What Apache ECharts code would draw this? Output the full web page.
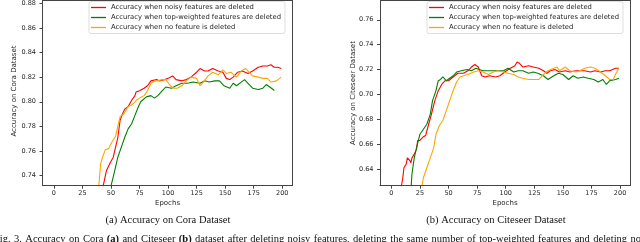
<!DOCTYPE html>
<html><head><meta charset="utf-8">
<script src="https://cdn.jsdelivr.net/npm/echarts@6/dist/echarts.min.js"></script>
<style>html,body{margin:0;padding:0;background:#fff}#c{position:relative;width:640px;height:242px}.spine{position:absolute;box-sizing:border-box;border:1px solid #444;pointer-events:none;z-index:5}#err{position:absolute;left:296px;top:40px;width:80px;font:5px sans-serif;color:#900;z-index:6;word-break:break-all}</style>
</head><body><div id="c"></div>
<script>
const seriesNames = ['Accuracy when noisy features are deleted', 'Accuracy when top-weighted features are deleted', 'Accuracy when no feature is deleted'];
const seriesColors = ['#ff0000', '#008000', '#ffa500'];
const xTicks = [0, 25, 50, 75, 100, 125, 150, 175, 200];
const coraTicks = [0.74, 0.76, 0.78, 0.80, 0.82, 0.84, 0.86, 0.88];
const citeTicks = [0.64, 0.66, 0.68, 0.70, 0.72, 0.74, 0.76];
const captionWords = ['Fig.', '3.', 'Accuracy', 'on', 'Cora', '(a)', 'and', 'Citeseer', '(b)', 'dataset', 'after', 'deleting', 'noisy', 'features,', 'deleting', 'the', 'same', 'number', 'of', 'top-weighted', 'features', 'and', 'deleting', 'no'];
const captionBold = ['(a)', '(b)'];

// Cora
const coraNoisyEpochs = [43, 46, 49, 52, 54, 56, 58, 60, 62, 65, 68, 71, 72, 75, 79, 82, 85, 90, 92, 97, 100, 104, 107, 112, 116, 120, 125, 128, 132, 135, 139, 144, 148, 151, 154, 157, 161, 165, 170, 174, 179, 183, 187, 190, 193, 196, 199];
const coraNoisyAcc = [0.731, 0.744, 0.750, 0.755, 0.763, 0.771, 0.785, 0.790, 0.794, 0.796, 0.801, 0.805, 0.808, 0.809, 0.811, 0.813, 0.817, 0.818, 0.817, 0.818, 0.819, 0.821, 0.818, 0.817, 0.818, 0.820, 0.824, 0.827, 0.825, 0.825, 0.827, 0.825, 0.824, 0.819, 0.818, 0.820, 0.824, 0.825, 0.823, 0.825, 0.828, 0.829, 0.829, 0.830, 0.828, 0.828, 0.827];
const coraTopEpochs = [49, 52, 54, 56, 59, 62, 65, 68, 71, 74, 76, 81, 85, 88, 91, 95, 98, 103, 107, 112, 117, 122, 128, 132, 136, 141, 145, 149, 154, 157, 160, 164, 167, 170, 174, 179, 183, 186, 189, 192, 193];
const coraTopAcc = [0.728, 0.739, 0.747, 0.755, 0.763, 0.771, 0.778, 0.782, 0.789, 0.796, 0.800, 0.804, 0.805, 0.803, 0.805, 0.809, 0.812, 0.811, 0.813, 0.815, 0.815, 0.816, 0.815, 0.817, 0.816, 0.817, 0.817, 0.813, 0.811, 0.815, 0.813, 0.816, 0.818, 0.815, 0.811, 0.810, 0.811, 0.814, 0.812, 0.810, 0.809];
const coraNoneEpochs = [39, 41, 43, 45, 48, 50, 52, 54, 56, 58, 61, 65, 69, 72, 75, 79, 82, 85, 88, 91, 95, 98, 102, 105, 108, 112, 116, 120, 125, 128, 130, 135, 139, 144, 148, 151, 155, 160, 164, 168, 174, 179, 183, 187, 190, 195, 199];
const coraNoneAcc = [0.728, 0.750, 0.756, 0.761, 0.762, 0.766, 0.769, 0.772, 0.780, 0.788, 0.790, 0.796, 0.798, 0.801, 0.803, 0.805, 0.809, 0.815, 0.817, 0.817, 0.818, 0.818, 0.813, 0.811, 0.811, 0.813, 0.817, 0.820, 0.819, 0.813, 0.815, 0.821, 0.824, 0.822, 0.826, 0.823, 0.824, 0.820, 0.825, 0.827, 0.821, 0.820, 0.819, 0.819, 0.816, 0.817, 0.820];

// Citeseer
const citeNoisyEpochs = [8, 10, 11, 13, 14, 16, 17, 18, 20, 22, 23, 25, 28, 30, 32, 35, 38, 41, 44, 47, 50, 54, 58, 63, 67, 70, 73, 76, 79, 82, 86, 91, 95, 99, 104, 108, 110, 112, 115, 120, 124, 129, 133, 136, 139, 143, 147, 152, 156, 161, 165, 169, 174, 178, 183, 187, 191, 196, 199];
const citeNoisyAcc = [0.622, 0.633, 0.641, 0.644, 0.649, 0.647, 0.645, 0.649, 0.652, 0.656, 0.663, 0.663, 0.666, 0.667, 0.674, 0.684, 0.695, 0.703, 0.708, 0.711, 0.711, 0.714, 0.717, 0.717, 0.719, 0.722, 0.724, 0.722, 0.715, 0.714, 0.715, 0.714, 0.715, 0.718, 0.721, 0.723, 0.726, 0.725, 0.722, 0.723, 0.722, 0.721, 0.719, 0.717, 0.719, 0.720, 0.718, 0.719, 0.718, 0.719, 0.719, 0.719, 0.718, 0.719, 0.718, 0.719, 0.719, 0.721, 0.721];
const citeTopEpochs = [17, 18, 20, 22, 25, 28, 31, 34, 36, 39, 41, 43, 45, 48, 51, 54, 57, 61, 66, 70, 74, 80, 85, 89, 93, 98, 102, 107, 111, 115, 120, 124, 128, 133, 137, 142, 146, 150, 155, 159, 163, 168, 172, 177, 181, 185, 188, 191, 196, 199];
const citeTopAcc = [0.622, 0.636, 0.649, 0.657, 0.668, 0.672, 0.676, 0.684, 0.695, 0.703, 0.711, 0.712, 0.714, 0.711, 0.713, 0.715, 0.718, 0.719, 0.720, 0.719, 0.721, 0.719, 0.719, 0.719, 0.719, 0.719, 0.721, 0.718, 0.719, 0.719, 0.717, 0.718, 0.717, 0.715, 0.712, 0.715, 0.717, 0.716, 0.712, 0.715, 0.713, 0.714, 0.713, 0.712, 0.710, 0.712, 0.708, 0.711, 0.712, 0.713];
const citeNoneEpochs = [26, 28, 31, 34, 37, 39, 42, 45, 48, 51, 54, 57, 60, 63, 67, 72, 76, 80, 85, 89, 93, 98, 102, 107, 111, 115, 120, 124, 129, 133, 137, 142, 145, 147, 152, 156, 161, 165, 169, 174, 178, 183, 187, 191, 194, 197, 199];
const citeNoneAcc = [0.622, 0.633, 0.641, 0.649, 0.657, 0.668, 0.675, 0.679, 0.687, 0.695, 0.703, 0.710, 0.714, 0.715, 0.716, 0.718, 0.719, 0.718, 0.716, 0.718, 0.719, 0.718, 0.717, 0.716, 0.714, 0.713, 0.712, 0.712, 0.712, 0.716, 0.719, 0.721, 0.722, 0.719, 0.722, 0.719, 0.718, 0.719, 0.721, 0.722, 0.721, 0.718, 0.715, 0.712, 0.712, 0.718, 0.721];

const errors = [];
window.addEventListener('error', e => errors.push('win:' + e.message));
const step = (name, fn) => { try { fn(); } catch (e) { errors.push(name + ':' + (e && e.message)); } };

const pairs = (xs, ys) => xs.map((x, i) => [x, ys[i]]);
const container = document.getElementById('c');
const chart = echarts.init(container);
const FONT = 'DejaVu Sans';
const SERIF = 'Liberation Serif';
const TXT = '#262626';
const AX = '#444';
const XMIN = -9.95, XMAX = 208.95;
const coraRange = [0.7319, 0.8822], citeRange = [0.6266, 0.7755];
const gridRects = [{left: 42.5, top: 0.5, width: 250, height: 185.2}, {left: 380, top: 0.5, width: 250.3, height: 185.2}];

function makeXAxis(gi) {
  return {
    type: 'value', gridIndex: gi, min: XMIN, max: XMAX,
    axisLine: {show: true, onZero: false, lineStyle: {color: AX, width: 1}},
    axisTick: {show: true, length: 3, customValues: xTicks, lineStyle: {color: AX}},
    axisLabel: {customValues: xTicks, fontSize: 6.5, fontFamily: FONT, color: TXT, margin: 4.5},
    splitLine: {show: false}
  };
}
function makeYAxis(gi, r, ticks) {
  return {
    type: 'value', gridIndex: gi, min: r[0], max: r[1],
    axisLine: {show: true, onZero: false, lineStyle: {color: AX, width: 1}},
    axisTick: {show: true, length: 3, customValues: ticks, lineStyle: {color: AX}},
    axisLabel: {customValues: ticks, fontSize: 6.5, fontFamily: FONT, color: TXT, margin: 6.5, formatter: v => v.toFixed(2)},
    splitLine: {show: false}
  };
}
function makeLine(name, color, gi, data) {
  return {
    type: 'line', name, xAxisIndex: gi, yAxisIndex: gi, data, showSymbol: false,
    clip: true, lineStyle: {color, width: 1.1}, itemStyle: {color}
  };
}
function makeLegend(left) {
  return {
    left, top: 1.5, orient: 'vertical', data: seriesNames, icon: 'rect', itemWidth: 15, itemHeight: 1.3,
    itemGap: 3, selectedMode: false,
    textStyle: {fontSize: 6.8, fontFamily: FONT, color: TXT},
    padding: [2.5, 4, 2.5, 2], backgroundColor: '#fff', borderColor: '#d6d6d6', borderWidth: 0.8, borderRadius: 2
  };
}

// 1. core chart: grids, axes, series
step('core', () => chart.setOption({
  animation: false,
  backgroundColor: '#fff',
  grid: gridRects.map(g => Object.assign({outerBoundsMode: 'none'}, g)),
  xAxis: [makeXAxis(0), makeXAxis(1)],
  yAxis: [makeYAxis(0, coraRange, coraTicks), makeYAxis(1, citeRange, citeTicks)],
  series: [
    makeLine(seriesNames[0], seriesColors[0], 0, pairs(coraNoisyEpochs, coraNoisyAcc)),
    makeLine(seriesNames[1], seriesColors[1], 0, pairs(coraTopEpochs, coraTopAcc)),
    makeLine(seriesNames[2], seriesColors[2], 0, pairs(coraNoneEpochs, coraNoneAcc)),
    makeLine(seriesNames[0], seriesColors[0], 1, pairs(citeNoisyEpochs, citeNoisyAcc)),
    makeLine(seriesNames[1], seriesColors[1], 1, pairs(citeTopEpochs, citeTopAcc)),
    makeLine(seriesNames[2], seriesColors[2], 1, pairs(citeNoneEpochs, citeNoneAcc))
  ]
}));

// 2. spines (frame) from each grid's coordinate system, as DOM overlay
step('frame', () => {
  const ranges = [coraRange, citeRange];
  ranges.forEach((r, gi) => {
    let p0 = null, p1 = null;
    try {
      p0 = chart.convertToPixel({gridIndex: gi}, [XMIN, r[1]]);
      p1 = chart.convertToPixel({gridIndex: gi}, [XMAX, r[0]]);
    } catch (e) { errors.push('conv' + gi + ':' + e.message); }
    const g = gridRects[gi];
    const ok = p0 && p1 && isFinite(p0[0]) && isFinite(p0[1]) && isFinite(p1[0]) && isFinite(p1[1]);
    if (!ok) errors.push('conv' + gi + ' bad ' + JSON.stringify([p0, p1]));
    const x0 = Math.floor(ok ? p0[0] : g.left), y0 = Math.floor(ok ? p0[1] : g.top);
    const x1 = Math.floor(ok ? p1[0] : g.left + g.width), y1 = Math.floor(ok ? p1[1] : g.top + g.height);
    const d = document.createElement('div');
    d.className = 'spine';
    d.style.left = x0 + 'px';
    d.style.top = y0 + 'px';
    d.style.width = (x1 - x0 + 1) + 'px';
    d.style.height = (y1 - y0 + 1) + 'px';
    container.appendChild(d);
  });
});

// 3. legends
step('legend', () => chart.setOption({legend: [makeLegend(89), makeLegend(427)]}));

// 4. titles and captions
step('texts', () => {
  const mctx = document.createElement('canvas').getContext('2d');
  const capSize = 10.5, capLeft = -6, capRight = 641;
  const widths = captionWords.map(w => {
    mctx.font = (captionBold.includes(w) ? 'bold ' : '') + capSize + 'px "' + SERIF + '"';
    return mctx.measureText(w).width;
  });
  const totalW = widths.reduce((a, b) => a + b, 0);
  const wordGap = (capRight - capLeft - totalW) / (captionWords.length - 1);
  let cx = capLeft;
  const captionGraphics = captionWords.map((w, i) => {
    const g = {type: 'text', id: 'cap' + i, x: cx, y: 239, style: {text: w, fontSize: capSize, fontFamily: SERIF, fontWeight: captionBold.includes(w) ? 'bold' : 'normal', fill: '#111', align: 'left', verticalAlign: 'middle'}};
    cx += widths[i] + wordGap;
    return g;
  });
  chart.setOption({graphic: [
    {type: 'text', id: 't1', x: 14, y: 91, rotation: Math.PI / 2, style: {text: 'Accuracy on Cora Dataset', fontSize: 7, fontFamily: FONT, fill: TXT, align: 'center', verticalAlign: 'middle'}},
    {type: 'text', id: 't2', x: 353.3, y: 93, rotation: Math.PI / 2, style: {text: 'Accuracy on Citeseer Dataset', fontSize: 7, fontFamily: FONT, fill: TXT, align: 'center', verticalAlign: 'middle'}},
    {type: 'text', id: 't3', x: 167.5, y: 202.7, style: {text: 'Epochs', fontSize: 7, fontFamily: FONT, fill: TXT, align: 'center', verticalAlign: 'middle'}},
    {type: 'text', id: 't4', x: 505, y: 202.7, style: {text: 'Epochs', fontSize: 7, fontFamily: FONT, fill: TXT, align: 'center', verticalAlign: 'middle'}},
    {type: 'text', id: 't5', x: 168, y: 220.7, style: {text: '(a) Accuracy on Cora Dataset', fontSize: 10.5, fontFamily: SERIF, fill: '#111', align: 'center', verticalAlign: 'middle'}},
    {type: 'text', id: 't6', x: 496, y: 220.7, style: {text: '(b) Accuracy on Citeseer Dataset', fontSize: 10.5, fontFamily: SERIF, fill: '#111', align: 'center', verticalAlign: 'middle'}}
  ].concat(captionGraphics)});
});

// report problems (only shown if something failed)
setTimeout(() => {
  if (errors.length) {
    const e = document.createElement('div');
    e.id = 'err';
    e.textContent = errors.join(' | ').slice(0, 400);
    container.appendChild(e);
  }
}, 0);
</script></body></html>
